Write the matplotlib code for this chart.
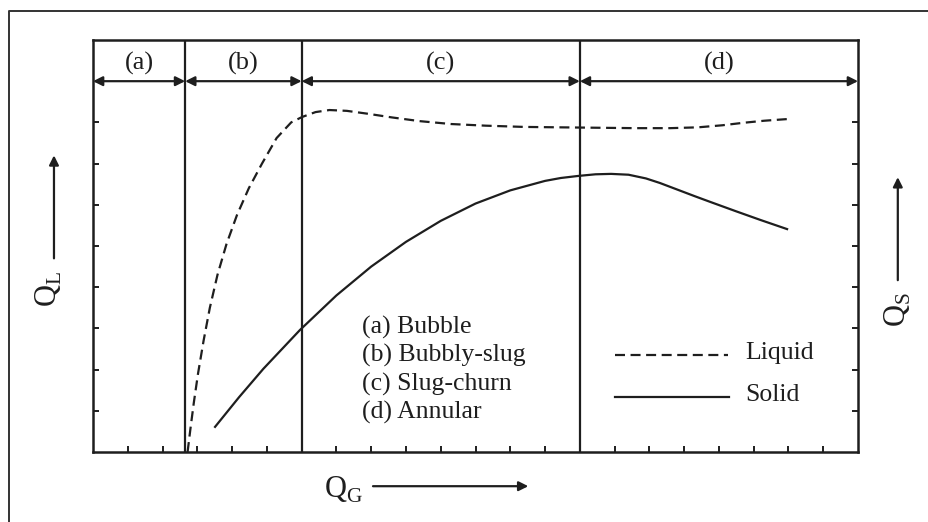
import matplotlib.pyplot as plt
from matplotlib.lines import Line2D

plt.rcParams['font.family'] = ['Liberation Serif', 'DejaVu Serif']
plt.rcParams['mathtext.fontset'] = 'custom'
plt.rcParams['mathtext.rm'] = 'Liberation Serif'

# flow regime boundaries along Q_G (axis units)
regime_edges = [0.0, 2.65, 6.0, 14.0, 22.0]
regime_tags = ["(a)", "(b)", "(c)", "(d)"]
regime_names = ["(a) Bubble", "(b) Bubbly-slug", "(c) Slug-churn", "(d) Annular"]

# liquid flow rate (dashed)
liquid_x = [2.72, 2.80, 2.90, 3.02, 3.18, 3.36, 3.58, 3.84, 4.14, 4.48, 4.86,
            5.28, 5.70, 6.01, 6.40, 6.80, 7.30, 7.90, 8.60, 9.40, 10.3, 11.3,
            12.4, 13.4, 14.5, 15.6, 16.6, 17.4, 18.1, 18.7, 19.3, 19.96]
liquid_y = [0.00, 0.55, 1.20, 1.90, 2.70, 3.50, 4.30, 5.05, 5.75, 6.40, 7.00,
            7.62, 8.00, 8.13, 8.25, 8.30, 8.28, 8.21, 8.12, 8.03, 7.96, 7.92,
            7.89, 7.88, 7.87, 7.86, 7.86, 7.88, 7.93, 7.99, 8.04, 8.08]

# solid flow rate (solid)
solid_x = [3.51, 4.2, 4.9, 5.95, 7.0, 8.0, 9.0, 10.0, 11.0, 12.0, 13.0, 13.45,
           13.95, 14.45, 14.9, 15.4, 15.9, 16.3, 16.8, 17.3, 17.75, 18.5,
           19.2, 19.96]
solid_y = [0.61, 1.33, 2.02, 2.96, 3.80, 4.50, 5.10, 5.61, 6.03, 6.35, 6.58, 6.65,
           6.70, 6.74, 6.75, 6.73, 6.64, 6.53, 6.37, 6.21, 6.07, 5.84,
           5.63, 5.41]

ink = "#1e1e1e"
dash = (0, (4.5, 2.5))

fig = plt.figure(figsize=(9.29, 5.22), dpi=100)
ax = fig.add_axes([0.1001, 0.1341, 0.8235, 0.7893])

ax.plot(liquid_x, liquid_y, color=ink, lw=1.6, ls=dash)
ax.plot(solid_x, solid_y, color=ink, lw=1.6)

# regime separators and double arrows
for e in regime_edges[1:-1]:
    ax.axvline(e, color=ink, lw=1.6)
for i, tag in enumerate(regime_tags):
    x0, x1 = regime_edges[i], regime_edges[i + 1]
    ax.annotate("", xy=(x1, 9), xytext=(x0, 9),
                arrowprops=dict(arrowstyle="<|-|>", color=ink, lw=1.6,
                                mutation_scale=14, shrinkA=0, shrinkB=0))
    ax.text((x0 + x1) / 2, 9.42, tag, ha="center", va="center", fontsize=19, color=ink)

# regime legend text
for k, name in enumerate(regime_names):
    ax.text(7.75, 3.03 - k * 0.69, name, ha="left", va="center", fontsize=18.5, color=ink)

# line legend
ax.plot([15.0, 18.25], [2.35, 2.35], color=ink, lw=1.6, ls=dash)
ax.plot([15.0, 18.3], [1.33, 1.33], color=ink, lw=1.6)
ax.text(18.75, 2.40, "Liquid", ha="left", va="center", fontsize=18.5, color=ink)
ax.text(18.75, 1.38, "Solid", ha="left", va="center", fontsize=18.5, color=ink)

ax.set_xlim(0, 22)
ax.set_ylim(0, 10)
ax.set_xticks(range(1, 22))
ax.set_yticks(range(1, 9))
ax.tick_params(direction="in", length=4.5, width=1.4, color=ink,
               labelbottom=False, labelleft=False, right=True)
for s in ax.spines.values():
    s.set_linewidth(1.8)
    s.set_color(ink)

# axis labels with arrows
arrow_kw = dict(arrowstyle="-|>", color=ink, lw=1.6, mutation_scale=14,
                shrinkA=0, shrinkB=0)
ax.text(-0.058, 0.395, r"Q$_\mathregular{L}$", transform=ax.transAxes, rotation=90,
        ha="center", va="center", fontsize=22, color=ink)
ax.annotate("", xy=(-0.051, 0.72), xytext=(-0.051, 0.47),
            xycoords="axes fraction", arrowprops=arrow_kw)
ax.text(1.052, 0.345, r"Q$_\mathregular{S}$", transform=ax.transAxes, rotation=90,
        ha="center", va="center", fontsize=22, color=ink)
ax.annotate("", xy=(1.052, 0.667), xytext=(1.052, 0.417),
            xycoords="axes fraction", arrowprops=arrow_kw)
ax.text(0.328, -0.092, r"Q$_\mathregular{G}$", transform=ax.transAxes,
        ha="center", va="center", fontsize=22, color=ink)
ax.annotate("", xy=(0.569, -0.083), xytext=(0.366, -0.083),
            xycoords="axes fraction", arrowprops=arrow_kw)

# outer frame (left and top edges visible)
fig.add_artist(Line2D([0.0092, 0.0092, 1.0], [0.0, 0.978, 0.978],
                      transform=fig.transFigure, color="#333333", lw=1.4))

fig.savefig("out.png", dpi=100)
